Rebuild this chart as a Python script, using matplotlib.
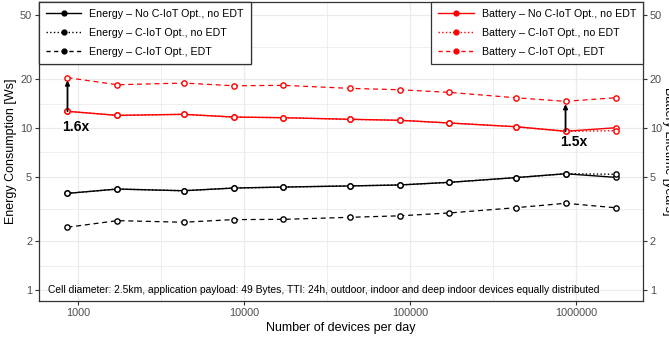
import matplotlib
matplotlib.use("Agg")
import matplotlib.pyplot as plt
import matplotlib as mb
from matplotlib.lines import Line2D
from matplotlib import transforms
from matplotlib.ticker import NullFormatter, NullLocator
import numpy as np

mb.rcParams["font.family"] = ["Liberation Sans", "DejaVu Sans"]

# devices per day (86400 s/day times arrival rate)
devices = [864, 1728, 4320, 8640, 17280, 43200, 86400, 172800, 432000, 864000, 1728000]

energy_no_opt = [3.95, 4.20, 4.10, 4.26, 4.32, 4.39, 4.45, 4.62, 4.94, 5.22, 4.96]
energy_opt_no_edt = [3.95, 4.20, 4.10, 4.26, 4.32, 4.39, 4.45, 4.62, 4.94, 5.22, 5.18]
energy_opt_edt = [2.44, 2.68, 2.62, 2.72, 2.73, 2.81, 2.87, 2.99, 3.22, 3.43, 3.22]

battery_no_opt = [12.68, 11.97, 12.15, 11.69, 11.58, 11.32, 11.16, 10.74, 10.19, 9.55, 10.04]
battery_opt_no_edt = [12.68, 11.97, 12.15, 11.69, 11.58, 11.32, 11.16, 10.74, 10.19, 9.55, 9.62]
battery_opt_edt = [20.45, 18.50, 18.96, 18.24, 18.35, 17.58, 17.23, 16.60, 15.38, 14.61, 15.38]

y_ticks = [1, 2, 5, 10, 20, 50]
x_ticks = [1000, 10000, 100000, 1000000]
gains = [(0, "1.6x", 10.1), (9, "1.5x", 8.2)]

note = ("Cell diameter: 2.5km, application payload: 49 Bytes, TTI: 24h, "
        "outdoor, indoor and deep indoor devices equally distributed")

red = "#FF0000"
grid_c = "#EBEBEB"
tick_c = "#4D4D4D"
border_c = "#333333"
xlim = (582, 2.53e6)
ylim = (0.855, 60)

fig = plt.figure(figsize=(6.69, 3.42), dpi=100)
ax = fig.add_axes([39 / 669, 1 - 301 / 342, (643 - 39) / 669, (301 - 2) / 342])

ax.set_xscale("log")
ax.set_yscale("log")

# grid: major + geometric-midpoint minors like ggplot
ax.set_yticks(y_ticks)
ax.set_yticklabels([str(t) for t in y_ticks])
ax.set_xticks(x_ticks)
ax.set_xticklabels([str(t) for t in x_ticks])
y_minor = [np.sqrt(a * b) for a, b in zip(y_ticks[:-1], y_ticks[1:])]
x_minor = [np.sqrt(a * b) for a, b in zip(x_ticks[:-1], x_ticks[1:])]
ax.set_yticks(y_minor, minor=True)
ax.set_xticks(x_minor, minor=True)
ax.xaxis.set_minor_formatter(NullFormatter())
ax.yaxis.set_minor_formatter(NullFormatter())
ax.set_xlim(*xlim)
ax.set_ylim(*ylim)
ax.tick_params(which="minor", length=0)
ax.grid(True, which="major", color=grid_c, lw=0.9)
ax.grid(True, which="minor", color=grid_c, lw=0.6)
ax.set_axisbelow(True)
ax.tick_params(which="major", length=3, width=0.8, color=border_c,
               labelsize=7.8, labelcolor=tick_c, pad=2)
for s in ax.spines.values():
    s.set_color(border_c)
    s.set_linewidth(0.9)

mk = dict(marker="o", ms=3.8, mew=1.0, mfc="white")
ax.plot(devices, energy_no_opt, "-", color="black", lw=1.0, **mk)
ax.plot(devices, energy_opt_no_edt, ":", color="black", lw=1.0, **mk)
ax.plot(devices, energy_opt_edt, "--", color="black", lw=0.9, dashes=(4, 3), **mk)
ax.plot(devices, battery_no_opt, "-", color=red, lw=1.0, **mk)
ax.plot(devices, battery_opt_no_edt, ":", color=red, lw=1.0, **mk)
ax.plot(devices, battery_opt_edt, "--", color=red, lw=0.9, dashes=(4, 3), **mk)

for i, lab, ty in gains:
    ax.annotate("", xy=(devices[i], battery_opt_edt[i]), xytext=(devices[i], battery_no_opt[i]),
                arrowprops=dict(arrowstyle="-|>", lw=1.3, color="black",
                                mutation_scale=6, shrinkA=0, shrinkB=2))
    ax.text(devices[i] * 0.93, ty, lab, fontsize=10, fontweight="bold", ha="left", va="center")

trans = transforms.blended_transform_factory(ax.transAxes, ax.transData)
ax.text(0.0149, 1.0, note, transform=trans, fontsize=7.4, ha="left", va="center", color="black")

ax.set_xlabel("Number of devices per day", fontsize=9, labelpad=3)
ax.set_ylabel("Energy Consumption [Ws]", fontsize=9, labelpad=2)

# right axis, same scale
ax2 = ax.twinx()
ax2.set_yscale("log")
ax2.set_yticks(y_ticks)
ax2.set_yticklabels([str(t) for t in y_ticks])
ax2.yaxis.set_minor_locator(NullLocator())
ax2.yaxis.set_minor_formatter(NullFormatter())
ax2.set_ylim(*ylim)
ax2.tick_params(which="major", length=3, width=0.8, color=border_c,
                labelsize=7.8, labelcolor=tick_c, pad=2)
for s in ax2.spines.values():
    s.set_visible(False)
fig.text(667.5 / 669, 1 - 151 / 342, "Battery Lifetime [years]", rotation=270,
         fontsize=9, ha="center", va="center")

def handles(color):
    return [Line2D([], [], color=color, ls="-", lw=1.0, marker="o", ms=3.5),
            Line2D([], [], color=color, ls=":", lw=1.0, marker="o", ms=3.5),
            Line2D([], [], color=color, ls="--", lw=1.0, dashes=(3, 2.5), marker="o", ms=3.5)]

leg_kw = dict(fontsize=7.7, frameon=True, fancybox=False, borderaxespad=0,
              handlelength=3.3, handletextpad=0.75, labelspacing=0.85,
              borderpad=0.65, edgecolor=border_c, framealpha=1)
leg1 = ax.legend(handles("black"),
                 ["Energy \u2013 No C-IoT Opt., no EDT", "Energy \u2013 C-IoT Opt., no EDT",
                  "Energy \u2013 C-IoT Opt., EDT"],
                 loc="upper left", **leg_kw)
leg1.get_frame().set_linewidth(0.9)
ax.add_artist(leg1)
leg2 = ax2.legend(handles(red),
                  ["Battery \u2013 No C-IoT Opt., no EDT", "Battery \u2013 C-IoT Opt., no EDT",
                   "Battery \u2013 C-IoT Opt., EDT"],
                  loc="upper right", **leg_kw)
leg2.get_frame().set_linewidth(0.9)

fig.savefig("out.png", dpi=100)
